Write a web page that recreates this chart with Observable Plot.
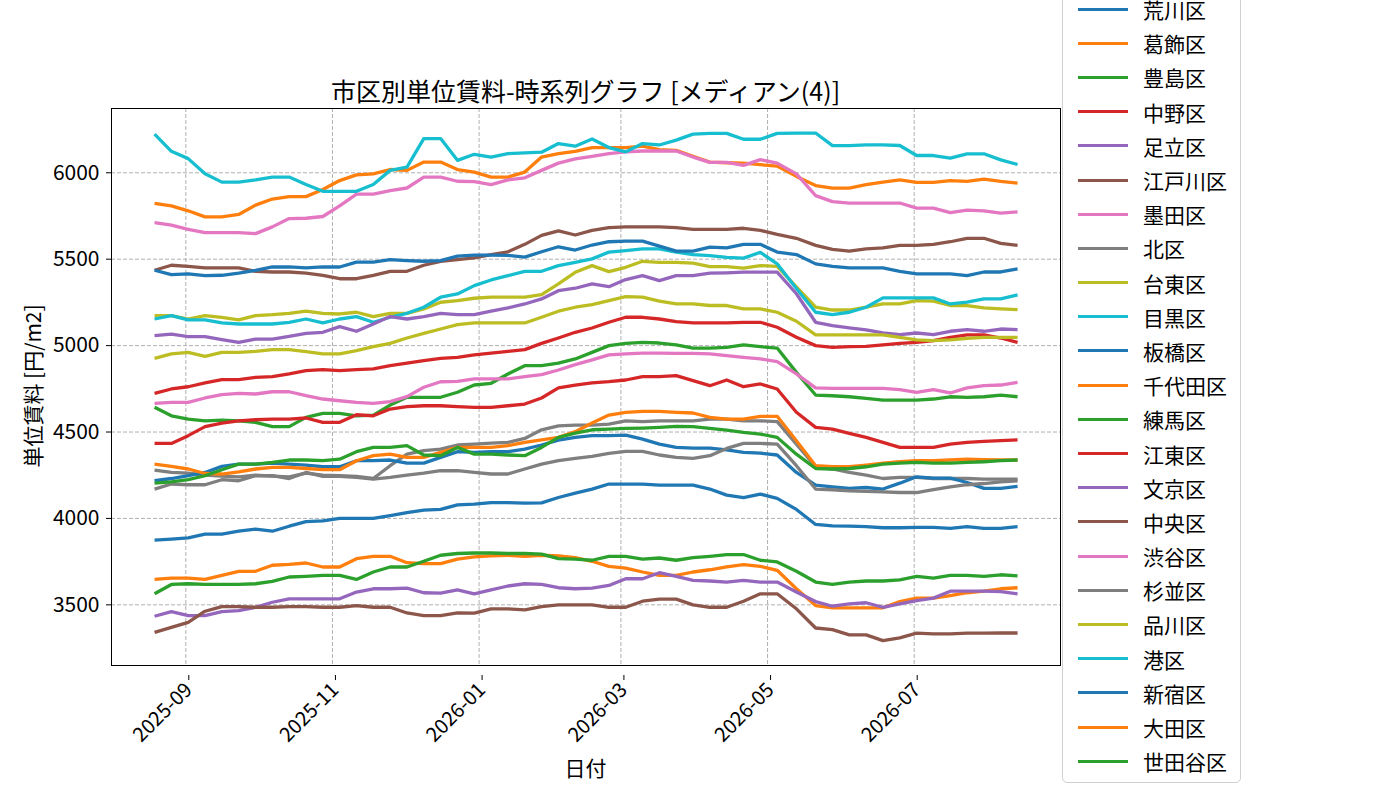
<!DOCTYPE html>
<html>
<head>
<meta charset="utf-8">
<script src="https://cdn.jsdelivr.net/npm/d3@7"></script>
<script src="https://cdn.jsdelivr.net/npm/@observablehq/plot@0.6"></script>
<style>
html, body { margin: 0; padding: 0; background: #fff; overflow: hidden; }
#wrap { position: relative; width: 1400px; height: 800px; font-family: "Noto Sans CJK JP", "Noto Sans", sans-serif; color: #000; overflow: hidden; }
#chart { position: absolute; left: 0; top: 0; }
.title { position: absolute; left: 111px; width: 949px; top: 74px; text-align: center; font-size: 25px; line-height: 32px; }
.xlabel { position: absolute; left: 111px; width: 949px; top: 752px; text-align: center; font-size: 21px; line-height: 30px; }
.ylabel { position: absolute; left: 32px; top: 386px; transform: translate(-50%, -50%) rotate(-90deg); font-size: 21px; line-height: 30px; white-space: nowrap; }
#legend { position: absolute; left: 1062px; top: -12px; width: 179px; height: 795px; box-sizing: border-box; border: 1px solid #d0d0d0; border-radius: 5px; background: #fff; padding-top: 3px; }
.entry { display: flex; align-items: center; height: 34.2px; font-size: 21px; }
.swatch { margin-left: 15px; width: 50px; height: 3px; }
.label { margin-left: 15px; white-space: nowrap; }
</style>
</head>
<body>
<div id="wrap">
  <div id="chart"></div>
  <div class="title">市区別単位賃料-時系列グラフ [メディアン(4)]</div>
  <div class="ylabel">単位賃料 [円/m2]</div>
  <div class="xlabel">日付</div>
  <div id="legend"></div>
</div>
<script>
// ---- data ----
const dates = ["2025-08-19","2025-08-26","2025-09-02","2025-09-09","2025-09-16","2025-09-23","2025-09-30","2025-10-07","2025-10-14","2025-10-21","2025-10-28","2025-11-04","2025-11-11","2025-11-18","2025-11-25","2025-12-02","2025-12-09","2025-12-16","2025-12-23","2025-12-30","2026-01-06","2026-01-13","2026-01-20","2026-01-27","2026-02-03","2026-02-10","2026-02-17","2026-02-24","2026-03-03","2026-03-10","2026-03-17","2026-03-24","2026-03-31","2026-04-07","2026-04-14","2026-04-21","2026-04-28","2026-05-05","2026-05-13","2026-05-21","2026-05-28","2026-06-04","2026-06-11","2026-06-18","2026-06-25","2026-07-02","2026-07-09","2026-07-16","2026-07-23","2026-07-30","2026-08-06","2026-08-13"];

const wardNames = ["荒川区","葛飾区","豊島区","中野区","足立区","江戸川区","墨田区","北区","台東区","目黒区","板橋区","千代田区","練馬区","江東区","文京区","中央区","渋谷区","杉並区","品川区","港区","新宿区","大田区","世田谷区"];

const arakawa = [3874,3880,3888,3909,3909,3926,3938,3926,3955,3981,3986,4000,4000,4000,4016,4033,4048,4052, 4078,4083,4091,4091,4088,4090,4121,4146,4170,4199,4199,4199,4193,4193,4193,4170,4135, 4121,4141,4116,4052,3965,3957,3955,3952,3946,3946,3948,3948,3942,3952,3942,3942,3952];
const katsushika = [3647,3655,3655,3647,3671,3694,3694,3729,3734,3742,3719,3719,3767,3781,3781,3744,3738,3738, 3764,3777,3783,3787,3781,3787,3783,3773,3752,3723,3713,3690,3671,3671,3690,3703,3719, 3733,3723,3700,3593,3496,3483,3483,3483,3483,3519,3539,3539,3554,3570,3579,3593,3599];
const toshima = [4643,4594,4575,4565,4569,4565,4556,4531,4531,4585,4608,4608,4594,4598,4656,4701,4701,4701, 4730,4772,4782,4836,4884,4884,4899,4923,4961,5000,5013,5019,5015,5004,4986,4986,4990, 5004,4994,4986,4845,4714,4710,4704,4695,4685,4685,4685,4691,4704,4701,4704,4714,4704];
const nakano = [4724,4749,4762,4784,4803,4803,4816,4820,4836,4855,4861,4855,4861,4865,4884,4899,4913,4926, 4932,4946,4957,4967,4977,5013,5044,5077,5102,5135,5164,5164,5154,5139,5131,5131,5131, 5135,5135,5106,5048,5000,4990,4994,4996,5004,5013,5019,5029,5048,5062,5062,5044,5019];
const adachi = [3434,3461,3438,3438,3461,3467,3486,3515,3535,3535,3535,3535,3574,3593,3593,3597,3570,3568, 3587,3564,3587,3609,3622,3618,3599,3593,3597,3612,3651,3651,3686,3665,3641,3638,3632, 3641,3632,3632,3574,3519,3492,3505,3512,3486,3505,3525,3539,3579,3579,3579,3577,3564];
const edogawa = [3341,3370,3399,3463,3490,3490,3486,3486,3490,3490,3486,3486,3496,3486,3486,3453,3438,3438, 3453,3452,3477,3477,3471,3490,3500,3500,3500,3486,3486,3521,3533,3533,3500,3486,3486, 3521,3564,3564,3477,3366,3357,3326,3326,3293,3309,3336,3332,3332,3336,3336,3337,3337];
const sumida = [4666,4672,4672,4697,4716,4724,4720,4733,4733,4710,4691,4681,4672,4666,4676,4705,4759,4791, 4793,4807,4807,4807,4820,4832,4859,4890,4917,4946,4952,4957,4957,4955,4955,4952,4942, 4932,4923,4907,4836,4755,4753,4753,4753,4753,4745,4730,4745,4726,4755,4768,4772,4787];
const kita = [4280,4266,4262,4250,4245,4240,4250,4245,4240,4262,4250,4248,4243,4231,4305,4372,4392,4401, 4425,4430,4436,4440,4463,4513,4536,4540,4540,4546,4565,4560,4565,4565,4565,4575,4575, 4565,4565,4560,4430,4299,4286,4266,4251,4231,4237,4237,4231,4231,4231,4228,4228,4228];
const taito = [5174,5174,5154,5174,5164,5149,5174,5179,5187,5199,5187,5183,5193,5168,5187,5187,5212,5251, 5260,5274,5280,5280,5280,5295,5357,5424,5463,5428,5453,5488,5482,5482,5477,5457,5457, 5448,5463,5459,5340,5222,5206,5206,5222,5241,5241,5260,5257,5232,5232,5218,5212,5208];
const meguro = [5154,5174,5149,5149,5131,5125,5125,5125,5135,5154,5131,5154,5168,5135,5164,5187,5222,5280, 5299,5347,5380,5405,5430,5430,5463,5482,5502,5541,5550,5560,5560,5541,5527,5521,5511, 5506,5540,5473,5330,5193,5179,5193,5222,5276,5276,5276,5276,5241,5251,5270,5270,5293];
const itabashi = [4218,4231,4247,4266,4301,4314,4314,4320,4314,4309,4299,4299,4334,4334,4338,4320,4320,4353, 4386,4382,4386,4386,4401,4425,4453,4469,4479,4479,4482,4459,4430,4411,4407,4407,4397, 4382,4378,4367,4266,4193,4183,4174,4179,4170,4204,4241,4233,4233,4208,4174,4174,4185];
const chiyoda = [5823,5809,5780,5745,5745,5759,5813,5848,5862,5862,5903,5955,5988,5994,6019,6014,6062,6062, 6019,6004,5975,5975,6004,6091,6111,6124,6146,6146,6146,6154,6134,6130,6095,6062,6058, 6056,6047,6039,5979,5926,5911,5911,5932,5946,5959,5944,5944,5955,5950,5963,5950,5940];
const nerima = [3564,3618,3622,3618,3618,3618,3622,3636,3661,3665,3671,3671,3647,3690,3719,3719,3752,3787, 3797,3800,3800,3797,3797,3793,3767,3764,3758,3781,3781,3764,3771,3758,3773,3781,3791, 3791,3758,3748,3694,3632,3618,3632,3638,3638,3645,3665,3655,3671,3671,3665,3674,3667];
const koto = [4434,4434,4479,4531,4552,4565,4571,4575,4575,4581,4556,4556,4600,4594,4633,4647,4652,4652, 4647,4643,4643,4652,4662,4697,4755,4772,4784,4791,4801,4820,4820,4826,4797,4768,4801, 4762,4778,4749,4614,4527,4517,4492,4469,4440,4411,4411,4411,4430,4440,4446,4450,4455];
const bunkyo = [5058,5067,5052,5052,5035,5019,5038,5038,5054,5071,5077,5110,5083,5125,5168,5154,5168,5187, 5179,5179,5199,5218,5241,5270,5318,5332,5357,5341,5382,5405,5376,5405,5405,5419,5421, 5425,5425,5425,5300,5135,5116,5102,5091,5073,5064,5073,5064,5083,5093,5083,5096,5093];
const chuo = [5436,5465,5459,5450,5450,5450,5430,5426,5426,5420,5407,5387,5387,5407,5430,5430,5465,5488, 5498,5508,5527,5543,5586,5638,5664,5640,5667,5683,5687,5687,5687,5683,5673,5673,5673, 5679,5667,5644,5621,5580,5557,5547,5560,5566,5580,5580,5586,5601,5621,5621,5592,5580];
const shibuya = [5712,5697,5673,5654,5654,5654,5648,5687,5735,5737,5747,5809,5877,5877,5897,5912,5975,5975, 5951,5949,5932,5959,5971,6014,6056,6080,6095,6111,6121,6126,6126,6126,6091,6060,6060, 6043,6076,6056,5994,5868,5833,5825,5825,5825,5825,5796,5796,5770,5784,5780,5767,5774];
const suginami = [4170,4199,4195,4195,4224,4218,4247,4247,4231,4266,4243,4243,4237,4228,4237,4251,4262,4276, 4276,4266,4257,4257,4286,4314,4334,4347,4359,4376,4388,4388,4367,4353,4347,4363,4405, 4434,4434,4430,4305,4170,4166,4160,4156,4154,4150,4150,4166,4183,4195,4202,4212,4218];
const shinagawa = [4926,4952,4961,4938,4961,4961,4967,4977,4977,4965,4952,4952,4971,4994,5013,5044,5071,5096, 5121,5131,5131,5131,5131,5164,5199,5222,5237,5260,5284,5280,5257,5241,5241,5232,5232, 5212,5212,5193,5141,5062,5062,5062,5062,5062,5048,5033,5029,5033,5042,5048,5048,5048];
const minato = [6224,6124,6082,5994,5946,5946,5959,5975,5975,5932,5893,5893,5893,5932,6014,6033,6198,6198, 6072,6107,6091,6111,6115,6119,6169,6154,6196,6146,6121,6169,6161,6189,6224,6228,6228, 6194,6194,6228,6230,6230,6157,6157,6162,6162,6158,6100,6100,6085,6110,6110,6075,6048];
const shinjuku = [5436,5411,5415,5405,5407,5420,5436,5455,5455,5450,5455,5455,5483,5483,5498,5492,5488,5492, 5518,5523,5523,5522,5512,5543,5572,5553,5582,5601,5605,5605,5576,5547,5547,5570,5566, 5586,5586,5541,5527,5473,5459,5450,5450,5450,5430,5415,5415,5415,5405,5426,5426,5444];
const ota = [4314,4301,4286,4260,4257,4270,4286,4295,4295,4289,4282,4282,4334,4363,4372,4353,4353,4382, 4411,4411,4411,4421,4440,4455,4469,4502,4552,4598,4614,4620,4620,4614,4610,4585,4575, 4575,4591,4591,4450,4305,4299,4299,4309,4320,4328,4334,4334,4338,4343,4340,4338,4338];
const setagaya = [4204,4212,4224,4247,4282,4314,4314,4324,4338,4338,4334,4343,4386,4411,4411,4421,4367,4363, 4411,4372,4372,4367,4363,4411,4469,4494,4513,4517,4521,4523,4527,4533,4531,4521,4511, 4498,4488,4469,4372,4289,4286,4289,4299,4314,4320,4324,4320,4320,4324,4328,4334,4338];

const seriesList = [arakawa, katsushika, toshima, nakano, adachi, edogawa, sumida, kita, taito, meguro, itabashi, chiyoda, nerima, koto, bunkyo, chuo, shibuya, suginami, shinagawa, minato, shinjuku, ota, setagaya];

const palette = ["#1f77b4","#ff7f0e","#2ca02c","#d62728","#9467bd","#8c564b","#e377c2","#7f7f7f","#bcbd22","#17becf"];
const xTickLabels = ["2025-09","2025-11","2026-01","2026-03","2026-05","2026-07"];
const yTicks = [3500, 4000, 4500, 5000, 5500, 6000];

// ---- build ----
const parseDay = d3.utcParse("%Y-%m-%d");
const parseMonth = d3.utcParse("%Y-%m");
const xTicks = xTickLabels.map(parseMonth);
const rows = [];
wardNames.forEach((name, i) => {
  seriesList[i].forEach((v, j) => rows.push({name, date: parseDay(dates[j]), value: v}));
});
const colorRange = wardNames.map((_, i) => palette[i % palette.length]);

const chart = Plot.plot({
  width: 1070,
  height: 800,
  marginLeft: 111,
  marginRight: 10,
  marginTop: 108,
  marginBottom: 135,
  style: { fontFamily: '"Noto Sans CJK JP", "Noto Sans", sans-serif', fontSize: "21px", background: "transparent", color: "#000", overflow: "visible" },
  x: { type: "utc", domain: [new Date(Date.UTC(2025, 7, 1, 2, 10)), new Date(Date.UTC(2026, 7, 30, 20, 40))] },
  y: { domain: [3149, 6372] },
  color: { domain: wardNames, range: colorRange },
  marks: [
    Plot.gridX(xTicks, { stroke: "#b0b0b0", strokeOpacity: 1, strokeWidth: 1, strokeDasharray: "4,2" }),
    Plot.gridY(yTicks, { stroke: "#b0b0b0", strokeOpacity: 1, strokeWidth: 1, strokeDasharray: "4,2" }),
    Plot.lineY(rows, { x: "date", y: "value", z: "name", stroke: "name", strokeWidth: 3.3, strokeLinejoin: "round", strokeLinecap: "butt" }),
    Plot.frame({ stroke: "#000", strokeWidth: 1 }),
    Plot.axisX(xTicks, { tickFormat: d3.utcFormat("%Y-%m"), tickRotate: -45, tickSize: 5, tickPadding: 6, dx: 3, dy: 10, label: null, fontSize: 20 }),
    Plot.axisY(yTicks, { tickFormat: d => String(d), tickSize: 5, tickPadding: 7, label: null, fontSize: 21 })
  ]
});
document.getElementById("chart").appendChild(chart);

// ---- legend (colors from the plot's color scale) ----
const colorScale = chart.scale("color");
const legend = document.getElementById("legend");
wardNames.forEach(name => {
  const e = document.createElement("div");
  e.className = "entry";
  const sw = document.createElement("div");
  sw.className = "swatch";
  sw.style.background = colorScale.apply(name);
  const lb = document.createElement("div");
  lb.className = "label";
  lb.textContent = name;
  e.appendChild(sw);
  e.appendChild(lb);
  legend.appendChild(e);
});
</script>
</body>
</html>
